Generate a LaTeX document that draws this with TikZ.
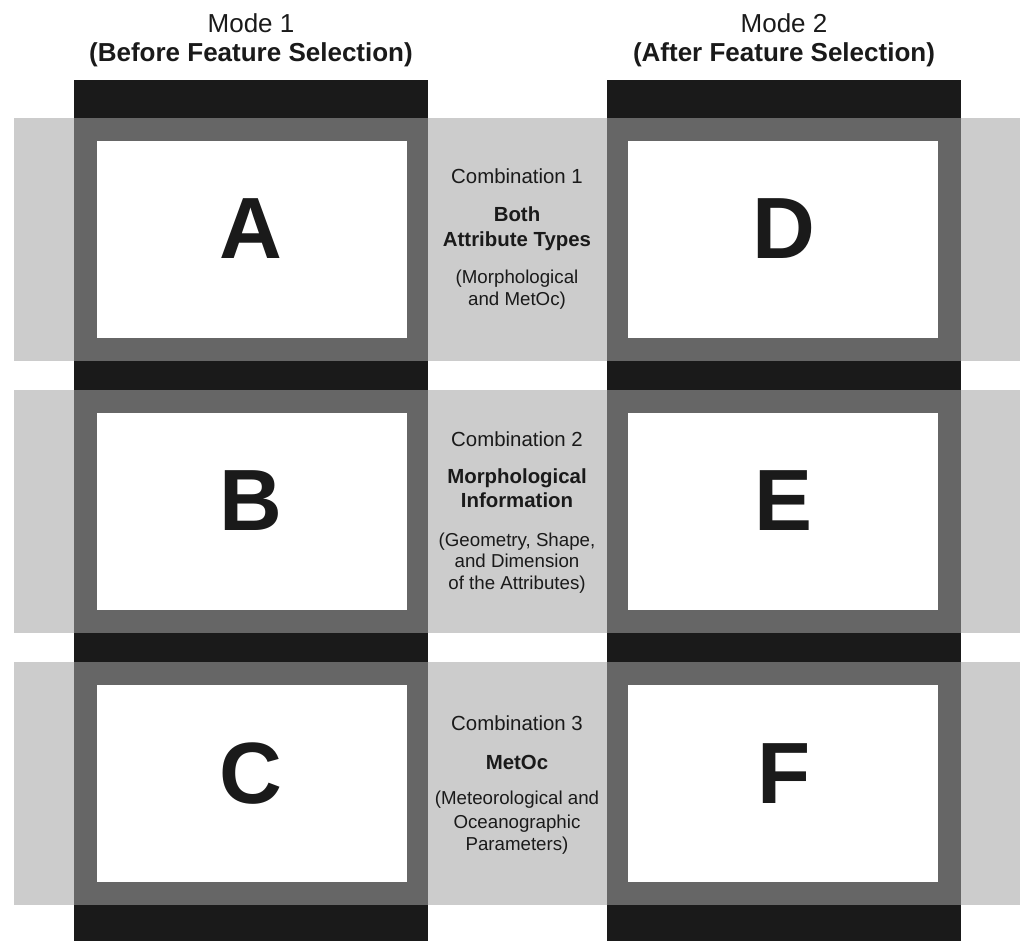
\documentclass[tikz,border=0pt]{standalone}
\usepackage{fontspec}
\setmainfont{Liberation Sans}
\definecolor{blk}{HTML}{1A1A1A}
\definecolor{dgray}{HTML}{666666}
\definecolor{lgray}{HTML}{CCCCCC}
\begin{document}
\begin{tikzpicture}[x=1pt,y=-1pt,
  band/.style={fill=lgray},
  column/.style={fill=blk},
  frame/.style={fill=dgray, inner sep=0pt, minimum width=354pt, minimum height=243pt},
  panel/.style={fill=white, inner sep=0pt, minimum width=310pt, minimum height=197pt},
  letter/.style={text=blk, inner sep=0pt, font=\fontsize{87}{87}\selectfont\bfseries},
  head/.style={text=blk, anchor=base, inner sep=0pt, font=\fontsize{26}{28}\selectfont},
  headb/.style={head, font=\fontsize{26}{28}\selectfont\bfseries},
  comb/.style={text=blk, anchor=base, inner sep=0pt, font=\fontsize{20.4}{22}\selectfont},
  combb/.style={comb, font=\fontsize{20.4}{22}\selectfont\bfseries},
  paren/.style={text=blk, anchor=base, inner sep=0pt, font=\fontsize{18.7}{21}\selectfont}]
\fill[white] (0,0) rectangle (1020,941);
\useasboundingbox (0,0) rectangle (1020,941);
% light gray bands
\fill[band] (14,118) rectangle (1020,361);
\fill[band] (14,390) rectangle (1020,633);
\fill[band] (14,662) rectangle (1020,905);
% black columns
\fill[column] (74,80) rectangle (428,941);
\fill[column] (607,80) rectangle (961,941);
% frames and panels
\node[frame] (fA) at (251,239.5) {};
\node[frame] (fB) at (251,511.5) {};
\node[frame] (fC) at (251,783.5) {};
\node[frame] (fD) at (784,239.5) {};
\node[frame] (fE) at (784,511.5) {};
\node[frame] (fF) at (784,783.5) {};
\node[panel] (pA) at (251.5,239.5) {};
\node[panel] (pB) at (251.5,511.5) {};
\node[panel] (pC) at (251.5,783.5) {};
\node[panel] (pD) at (783,239.5) {};
\node[panel] (pE) at (783,511.5) {};
\node[panel] (pF) at (783,783.5) {};
% letters
\node[letter] (lA) at (251,229) {A};
\node[letter] (lB) at (251,501) {B};
\node[letter] (lC) at (251,774) {C};
\node[letter] (lD) at (784,229) {D};
\node[letter] (lE) at (784,501) {E};
\node[letter] (lF) at (784,774) {F};
% headers
\node[head] (m1) at (251,33) {Mode 1};
\node[headb] (m1b) at (251,62) {(Before Feature Selection)};
\node[head] (m2) at (784,33) {Mode 2};
\node[headb] (m2b) at (784,62) {(After Feature Selection)};
% combination 1
\node[comb] (c1) at (517,184) {Combination 1};
\node[combb] (c1a) at (517,222) {Both};
\node[combb] (c1b) at (517,247) {Attribute Types};
\node[paren] (c1c) at (517,284) {(Morphological};
\node[paren] (c1d) at (517,306) {and MetOc)};
% combination 2
\node[comb] (c2) at (517,446) {Combination 2};
\node[combb] (c2a) at (517,483) {Morphological};
\node[combb] (c2b) at (517,507) {Information};
\node[paren] (c2c) at (517,546) {(Geometry, Shape,};
\node[paren] (c2d) at (517,567.5) {and Dimension};
\node[paren] (c2e) at (517,589) {of the Attributes)};
% combination 3
\node[comb] (c3) at (517,730.5) {Combination 3};
\node[combb] (c3a) at (517,769) {MetOc};
\node[paren] (c3b) at (517,804) {(Meteorological and};
\node[paren] (c3c) at (517,828) {Oceanographic};
\node[paren] (c3d) at (517,850) {Parameters)};
\end{tikzpicture}
\end{document}
